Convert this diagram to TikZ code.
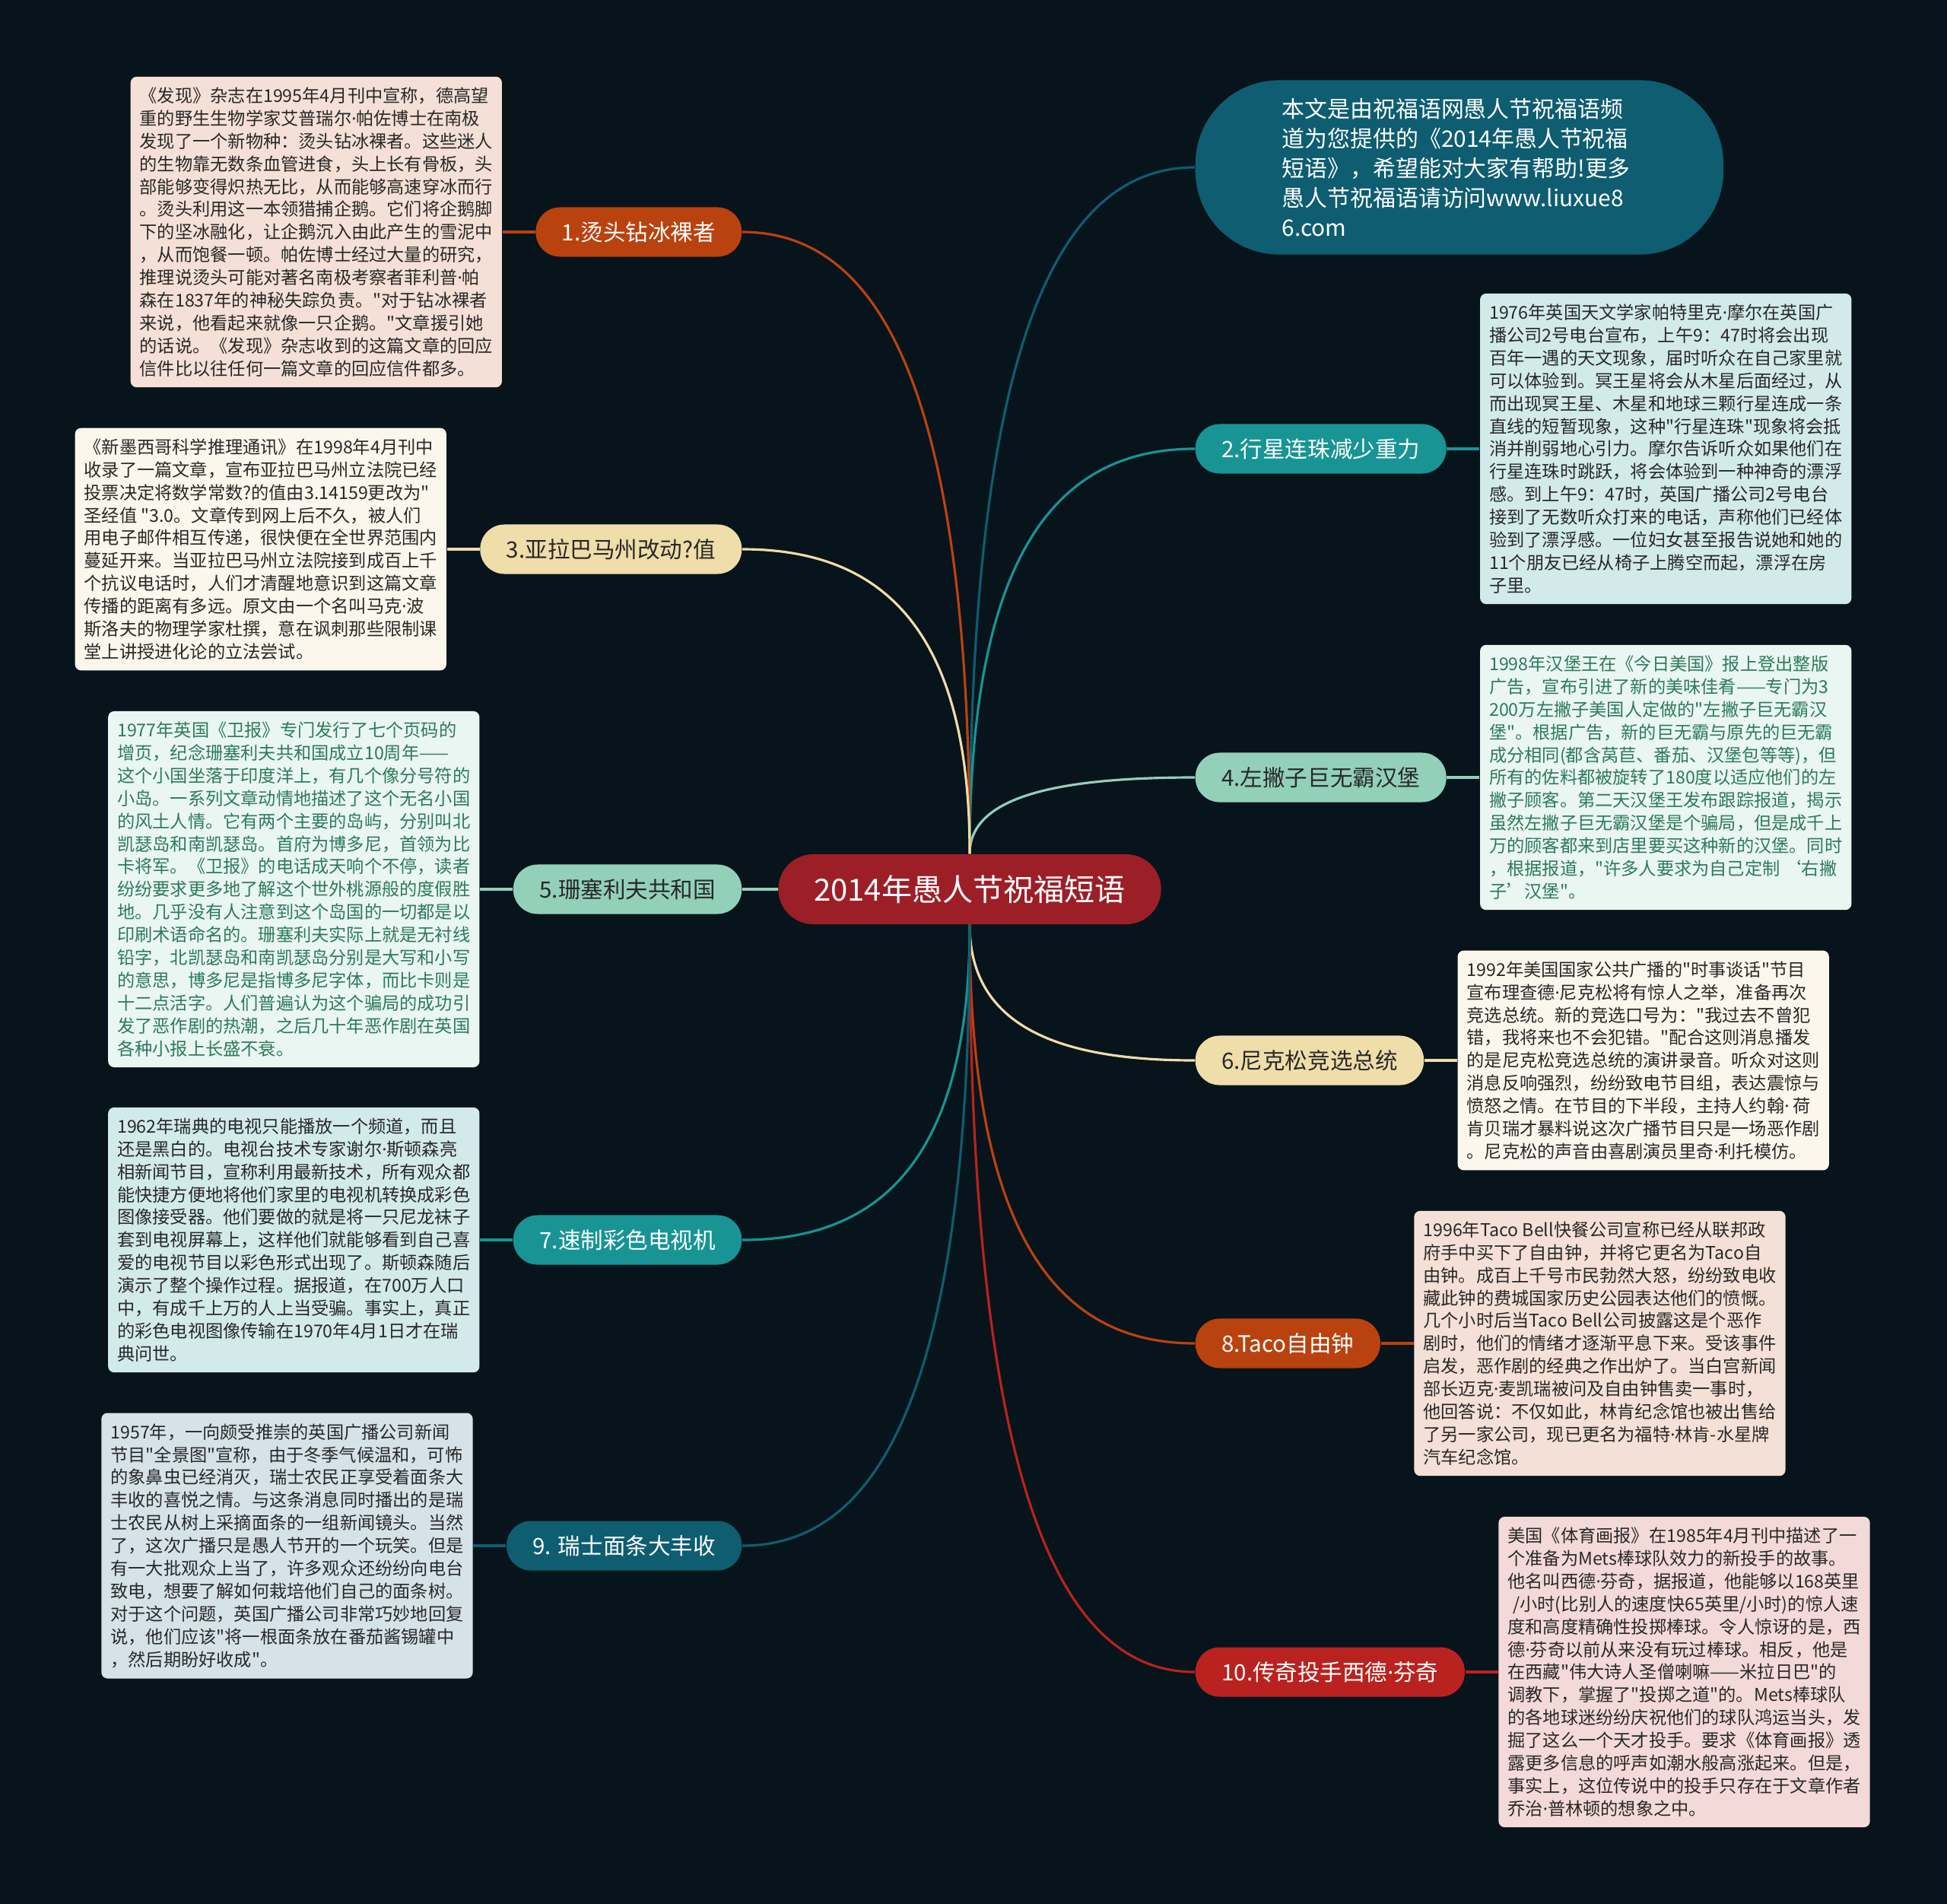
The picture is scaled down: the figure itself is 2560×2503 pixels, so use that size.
\documentclass[tikz,border=0pt]{standalone}
\usepackage{fontspec}
\setmainfont{Noto Sans CJK SC}[Ligatures=TeXOff]
\newfontfamily\dotfont{Noto Sans}
\newcommand{\mdot}{{\dotfont ·}}
\usepackage{tikz}
\usetikzlibrary{positioning, backgrounds}
\definecolor{bgnavy}{RGB}{8, 20, 27}
\definecolor{rootred}{RGB}{156, 31, 40}
\definecolor{rustorange}{RGB}{186, 66, 15}
\definecolor{sandyellow}{RGB}{239, 221, 170}
\definecolor{mintgreen}{RGB}{146, 208, 186}
\definecolor{seateal}{RGB}{24, 148, 149}
\definecolor{deepteal}{RGB}{14, 93, 112}
\definecolor{brickred}{RGB}{186, 34, 31}
\definecolor{notepeach}{RGB}{244, 224, 214}
\definecolor{notecream}{RGB}{251, 247, 236}
\definecolor{notemint}{RGB}{234, 246, 241}
\definecolor{notecyan}{RGB}{211, 234, 234}
\definecolor{notegrey}{RGB}{213, 227, 232}
\definecolor{notepink}{RGB}{243, 217, 216}
\definecolor{inkgrey}{RGB}{40, 40, 40}
\definecolor{inkgreen}{RGB}{44, 122, 92}

\begin{document}
\begin{tikzpicture}[
  x=0.01cm, y=-0.01cm,
  node distance=0.43cm,
  root/.style={fill=rootred, text=white, rounded corners=0.46cm,
    minimum width=5.03cm, minimum height=0.92cm,
    font=\fontsize{11.4pt}{14pt}\selectfont},
  intro/.style={fill=deepteal, text=white, rounded corners=1.1cm,
    text width=4.66cm, align=left, inner xsep=1.14cm,
    minimum height=2.29cm, font=\fontsize{8.5pt}{11.15pt}\selectfont},
  topic/.style={rounded corners=0.32cm, minimum height=0.65cm,
    inner xsep=0.345cm, inner ysep=0pt,
    font=\fontsize{8.4pt}{10pt}\selectfont},
  rusttopic/.style={topic, fill=rustorange, text=white},
  sandtopic/.style={topic, fill=sandyellow, text=inkgrey},
  minttopic/.style={topic, fill=mintgreen, text=inkgrey},
  tealtopic/.style={topic, fill=seateal, text=white},
  deeptopic/.style={topic, fill=deepteal, text=white},
  bricktopic/.style={topic, fill=brickred, text=white},
  note/.style={rounded corners=0.08cm, align=left,
    minimum width=4.88cm, inner xsep=0.11cm, inner ysep=0.14cm,
    text=inkgrey, font=\fontsize{6.6pt}{8.5pt}\selectfont},
  link/.style={line width=0.9pt}
]
\useasboundingbox (0,0) rectangle (2560,2503);

\node[root] (root) at (1275,1169) {2014年愚人节祝福短语};

\node[intro, anchor=west] (intro) at (1571,220) {本文是由祝福语网愚人节祝福语频\\
道为您提供的《2014年愚人节祝福\\
短语》，希望能对大家有帮助!更多\\
愚人节祝福语请访问www.liuxue8\\
6.com};

\node[rusttopic, anchor=east] (t1) at (976,305) {1.烫头钻冰裸者};
\node[sandtopic, anchor=east] (t3) at (976,722) {3.亚拉巴马州改动?值};
\node[minttopic, anchor=east] (t5) at (976,1169) {5.珊塞利夫共和国};
\node[tealtopic, anchor=east] (t7) at (976,1630) {7.速制彩色电视机};
\node[deeptopic, anchor=east] (t9) at (976,2032) {9. 瑞士面条大丰收};

\node[tealtopic, anchor=west] (t2) at (1571,590) {2.行星连珠减少重力};
\node[minttopic, anchor=west] (t4) at (1571,1022) {4.左撇子巨无霸汉堡};
\node[sandtopic, anchor=west] (t6) at (1571,1394) {6.尼克松竞选总统};
\node[rusttopic, anchor=west] (t8) at (1571,1766) {8.Taco自由钟};
\node[bricktopic, anchor=west] (t10) at (1571,2198) {10.传奇投手西德\mdot 芬奇};

\node[note, fill=notepeach, left=of t1] (n1) {《发现》杂志在1995年4月刊中宣称，德高望\\
重的野生生物学家艾普瑞尔\mdot 帕佐博士在南极\\
发现了一个新物种：烫头钻冰裸者。这些迷人\\
的生物靠无数条血管进食，头上长有骨板，头\\
部能够变得炽热无比，从而能够高速穿冰而行\\
。烫头利用这一本领猎捕企鹅。它们将企鹅脚\\
下的坚冰融化，让企鹅沉入由此产生的雪泥中\\
，从而饱餐一顿。帕佐博士经过大量的研究，\\
推理说烫头可能对著名南极考察者菲利普\mdot 帕\\
森在1837年的神秘失踪负责。"对于钻冰裸者\\
来说，他看起来就像一只企鹅。"文章援引她\\
的话说。《发现》杂志收到的这篇文章的回应\\
信件比以往任何一篇文章的回应信件都多。};

\node[note, fill=notecream, left=of t3] (n3) {《新墨西哥科学推理通讯》在1998年4月刊中\\
收录了一篇文章，宣布亚拉巴马州立法院已经\\
投票决定将数学常数?的值由3.14159更改为"\\
圣经值 "3.0。文章传到网上后不久，被人们\\
用电子邮件相互传递，很快便在全世界范围内\\
蔓延开来。当亚拉巴马州立法院接到成百上千\\
个抗议电话时，人们才清醒地意识到这篇文章\\
传播的距离有多远。原文由一个名叫马克\mdot 波\\
斯洛夫的物理学家杜撰，意在讽刺那些限制课\\
堂上讲授进化论的立法尝试。};

\node[note, fill=notemint, text=inkgreen, left=of t5] (n5) {1977年英国《卫报》专门发行了七个页码的\\
增页，纪念珊塞利夫共和国成立10周年——\\
这个小国坐落于印度洋上，有几个像分号符的\\
小岛。一系列文章动情地描述了这个无名小国\\
的风土人情。它有两个主要的岛屿，分别叫北\\
凯瑟岛和南凯瑟岛。首府为博多尼，首领为比\\
卡将军。《卫报》的电话成天响个不停，读者\\
纷纷要求更多地了解这个世外桃源般的度假胜\\
地。几乎没有人注意到这个岛国的一切都是以\\
印刷术语命名的。珊塞利夫实际上就是无衬线\\
铅字，北凯瑟岛和南凯瑟岛分别是大写和小写\\
的意思，博多尼是指博多尼字体，而比卡则是\\
十二点活字。人们普遍认为这个骗局的成功引\\
发了恶作剧的热潮，之后几十年恶作剧在英国\\
各种小报上长盛不衰。};

\node[note, fill=notecyan, left=of t7] (n7) {1962年瑞典的电视只能播放一个频道，而且\\
还是黑白的。电视台技术专家谢尔\mdot 斯顿森亮\\
相新闻节目，宣称利用最新技术，所有观众都\\
能快捷方便地将他们家里的电视机转换成彩色\\
图像接受器。他们要做的就是将一只尼龙袜子\\
套到电视屏幕上，这样他们就能够看到自己喜\\
爱的电视节目以彩色形式出现了。斯顿森随后\\
演示了整个操作过程。据报道，在700万人口\\
中，有成千上万的人上当受骗。事实上，真正\\
的彩色电视图像传输在1970年4月1日才在瑞\\
典问世。};

\node[note, fill=notegrey, left=of t9] (n9) {1957年，一向颇受推崇的英国广播公司新闻\\
节目"全景图"宣称，由于冬季气候温和，可怖\\
的象鼻虫已经消灭，瑞士农民正享受着面条大\\
丰收的喜悦之情。与这条消息同时播出的是瑞\\
士农民从树上采摘面条的一组新闻镜头。当然\\
了，这次广播只是愚人节开的一个玩笑。但是\\
有一大批观众上当了，许多观众还纷纷向电台\\
致电，想要了解如何栽培他们自己的面条树。\\
对于这个问题，英国广播公司非常巧妙地回复\\
说，他们应该"将一根面条放在番茄酱锡罐中\\
，然后期盼好收成"。};

\node[note, fill=notecyan, right=of t2] (n2) {1976年英国天文学家帕特里克\mdot 摩尔在英国广\\
播公司2号电台宣布，上午9：47时将会出现\\
百年一遇的天文现象，届时听众在自己家里就\\
可以体验到。冥王星将会从木星后面经过，从\\
而出现冥王星、木星和地球三颗行星连成一条\\
直线的短暂现象，这种"行星连珠"现象将会抵\\
消并削弱地心引力。摩尔告诉听众如果他们在\\
行星连珠时跳跃，将会体验到一种神奇的漂浮\\
感。到上午9：47时，英国广播公司2号电台\\
接到了无数听众打来的电话，声称他们已经体\\
验到了漂浮感。一位妇女甚至报告说她和她的\\
11个朋友已经从椅子上腾空而起，漂浮在房\\
子里。};

\node[note, fill=notemint, text=inkgreen, right=of t4] (n4) {1998年汉堡王在《今日美国》报上登出整版\\
广告，宣布引进了新的美味佳肴——专门为3\\
200万左撇子美国人定做的"左撇子巨无霸汉\\
堡"。根据广告，新的巨无霸与原先的巨无霸\\
成分相同(都含莴苣、番茄、汉堡包等等)，但\\
所有的佐料都被旋转了180度以适应他们的左\\
撇子顾客。第二天汉堡王发布跟踪报道，揭示\\
虽然左撇子巨无霸汉堡是个骗局，但是成千上\\
万的顾客都来到店里要买这种新的汉堡。同时\\
，根据报道，"许多人要求为自己定制 ‘右撇\\
子’汉堡"。};

\node[note, fill=notecream, right=of t6] (n6) {1992年美国国家公共广播的"时事谈话"节目\\
宣布理查德\mdot 尼克松将有惊人之举，准备再次\\
竞选总统。新的竞选口号为："我过去不曾犯\\
错，我将来也不会犯错。"配合这则消息播发\\
的是尼克松竞选总统的演讲录音。听众对这则\\
消息反响强烈，纷纷致电节目组，表达震惊与\\
愤怒之情。在节目的下半段，主持人约翰\mdot{} 荷\\
肯贝瑞才暴料说这次广播节目只是一场恶作剧\\
。尼克松的声音由喜剧演员里奇\mdot 利托模仿。};

\node[note, fill=notepeach, right=of t8] (n8) {1996年Taco Bell快餐公司宣称已经从联邦政\\
府手中买下了自由钟，并将它更名为Taco自\\
由钟。成百上千号市民勃然大怒，纷纷致电收\\
藏此钟的费城国家历史公园表达他们的愤慨。\\
几个小时后当Taco Bell公司披露这是个恶作\\
剧时，他们的情绪才逐渐平息下来。受该事件\\
启发，恶作剧的经典之作出炉了。当白宫新闻\\
部长迈克\mdot 麦凯瑞被问及自由钟售卖一事时，\\
他回答说：不仅如此，林肯纪念馆也被出售给\\
了另一家公司，现已更名为福特\mdot 林肯-水星牌\\
汽车纪念馆。};

\node[note, fill=notepink, right=of t10] (n10) {美国《体育画报》在1985年4月刊中描述了一\\
个准备为Mets棒球队效力的新投手的故事。\\
他名叫西德\mdot 芬奇，据报道，他能够以168英里\\
\hspace*{0.3em}/小时(比别人的速度快65英里/小时)的惊人速\\
度和高度精确性投掷棒球。令人惊讶的是，西\\
德\mdot 芬奇以前从来没有玩过棒球。相反，他是\\
在西藏"伟大诗人圣僧喇嘛——米拉日巴"的\\
调教下，掌握了"投掷之道"的。Mets棒球队\\
的各地球迷纷纷庆祝他们的球队鸿运当头，发\\
掘了这么一个天才投手。要求《体育画报》透\\
露更多信息的呼声如潮水般高涨起来。但是，\\
事实上，这位传说中的投手只存在于文章作者\\
乔治\mdot 普林顿的想象之中。};

\begin{scope}[on background layer]
\fill[bgnavy] (0,0) rectangle (2560,2503);
\draw[link, deepteal] (root.north) .. controls +(0,-677) and +(-178,0) .. (intro.west);
\draw[link, seateal] (root.north) .. controls +(0,-400) and +(-178,0) .. (t2.west);
\draw[link, mintgreen] (root.north) .. controls +(0,-76) and +(-178,0) .. (t4.west);
\draw[link, sandyellow] (root.south) .. controls +(0,134) and +(-178,0) .. (t6.west);
\draw[link, rustorange] (root.south) .. controls +(0,413) and +(-178,0) .. (t8.west);
\draw[link, brickred] (root.south) .. controls +(0,737) and +(-178,0) .. (t10.west);
\draw[link, rustorange] (root.north) .. controls +(0,-614) and +(179,0) .. (t1.east);
\draw[link, sandyellow] (root.north) .. controls +(0,-301) and +(179,0) .. (t3.east);
\draw[link, mintgreen] (root.west) -- (t5.east);
\draw[link, seateal] (root.south) .. controls +(0,311) and +(179,0) .. (t7.east);
\draw[link, deepteal] (root.south) .. controls +(0,613) and +(179,0) .. (t9.east);
\draw[link, rustorange] (t1) -- (n1);
\draw[link, sandyellow] (t3) -- (n3);
\draw[link, mintgreen] (t5) -- (n5);
\draw[link, seateal] (t7) -- (n7);
\draw[link, deepteal] (t9) -- (n9);
\draw[link, seateal] (t2) -- (n2);
\draw[link, mintgreen] (t4) -- (n4);
\draw[link, sandyellow] (t6) -- (n6);
\draw[link, rustorange] (t8) -- (n8);
\draw[link, brickred] (t10) -- (n10);
\end{scope}
\end{tikzpicture}
\end{document}
